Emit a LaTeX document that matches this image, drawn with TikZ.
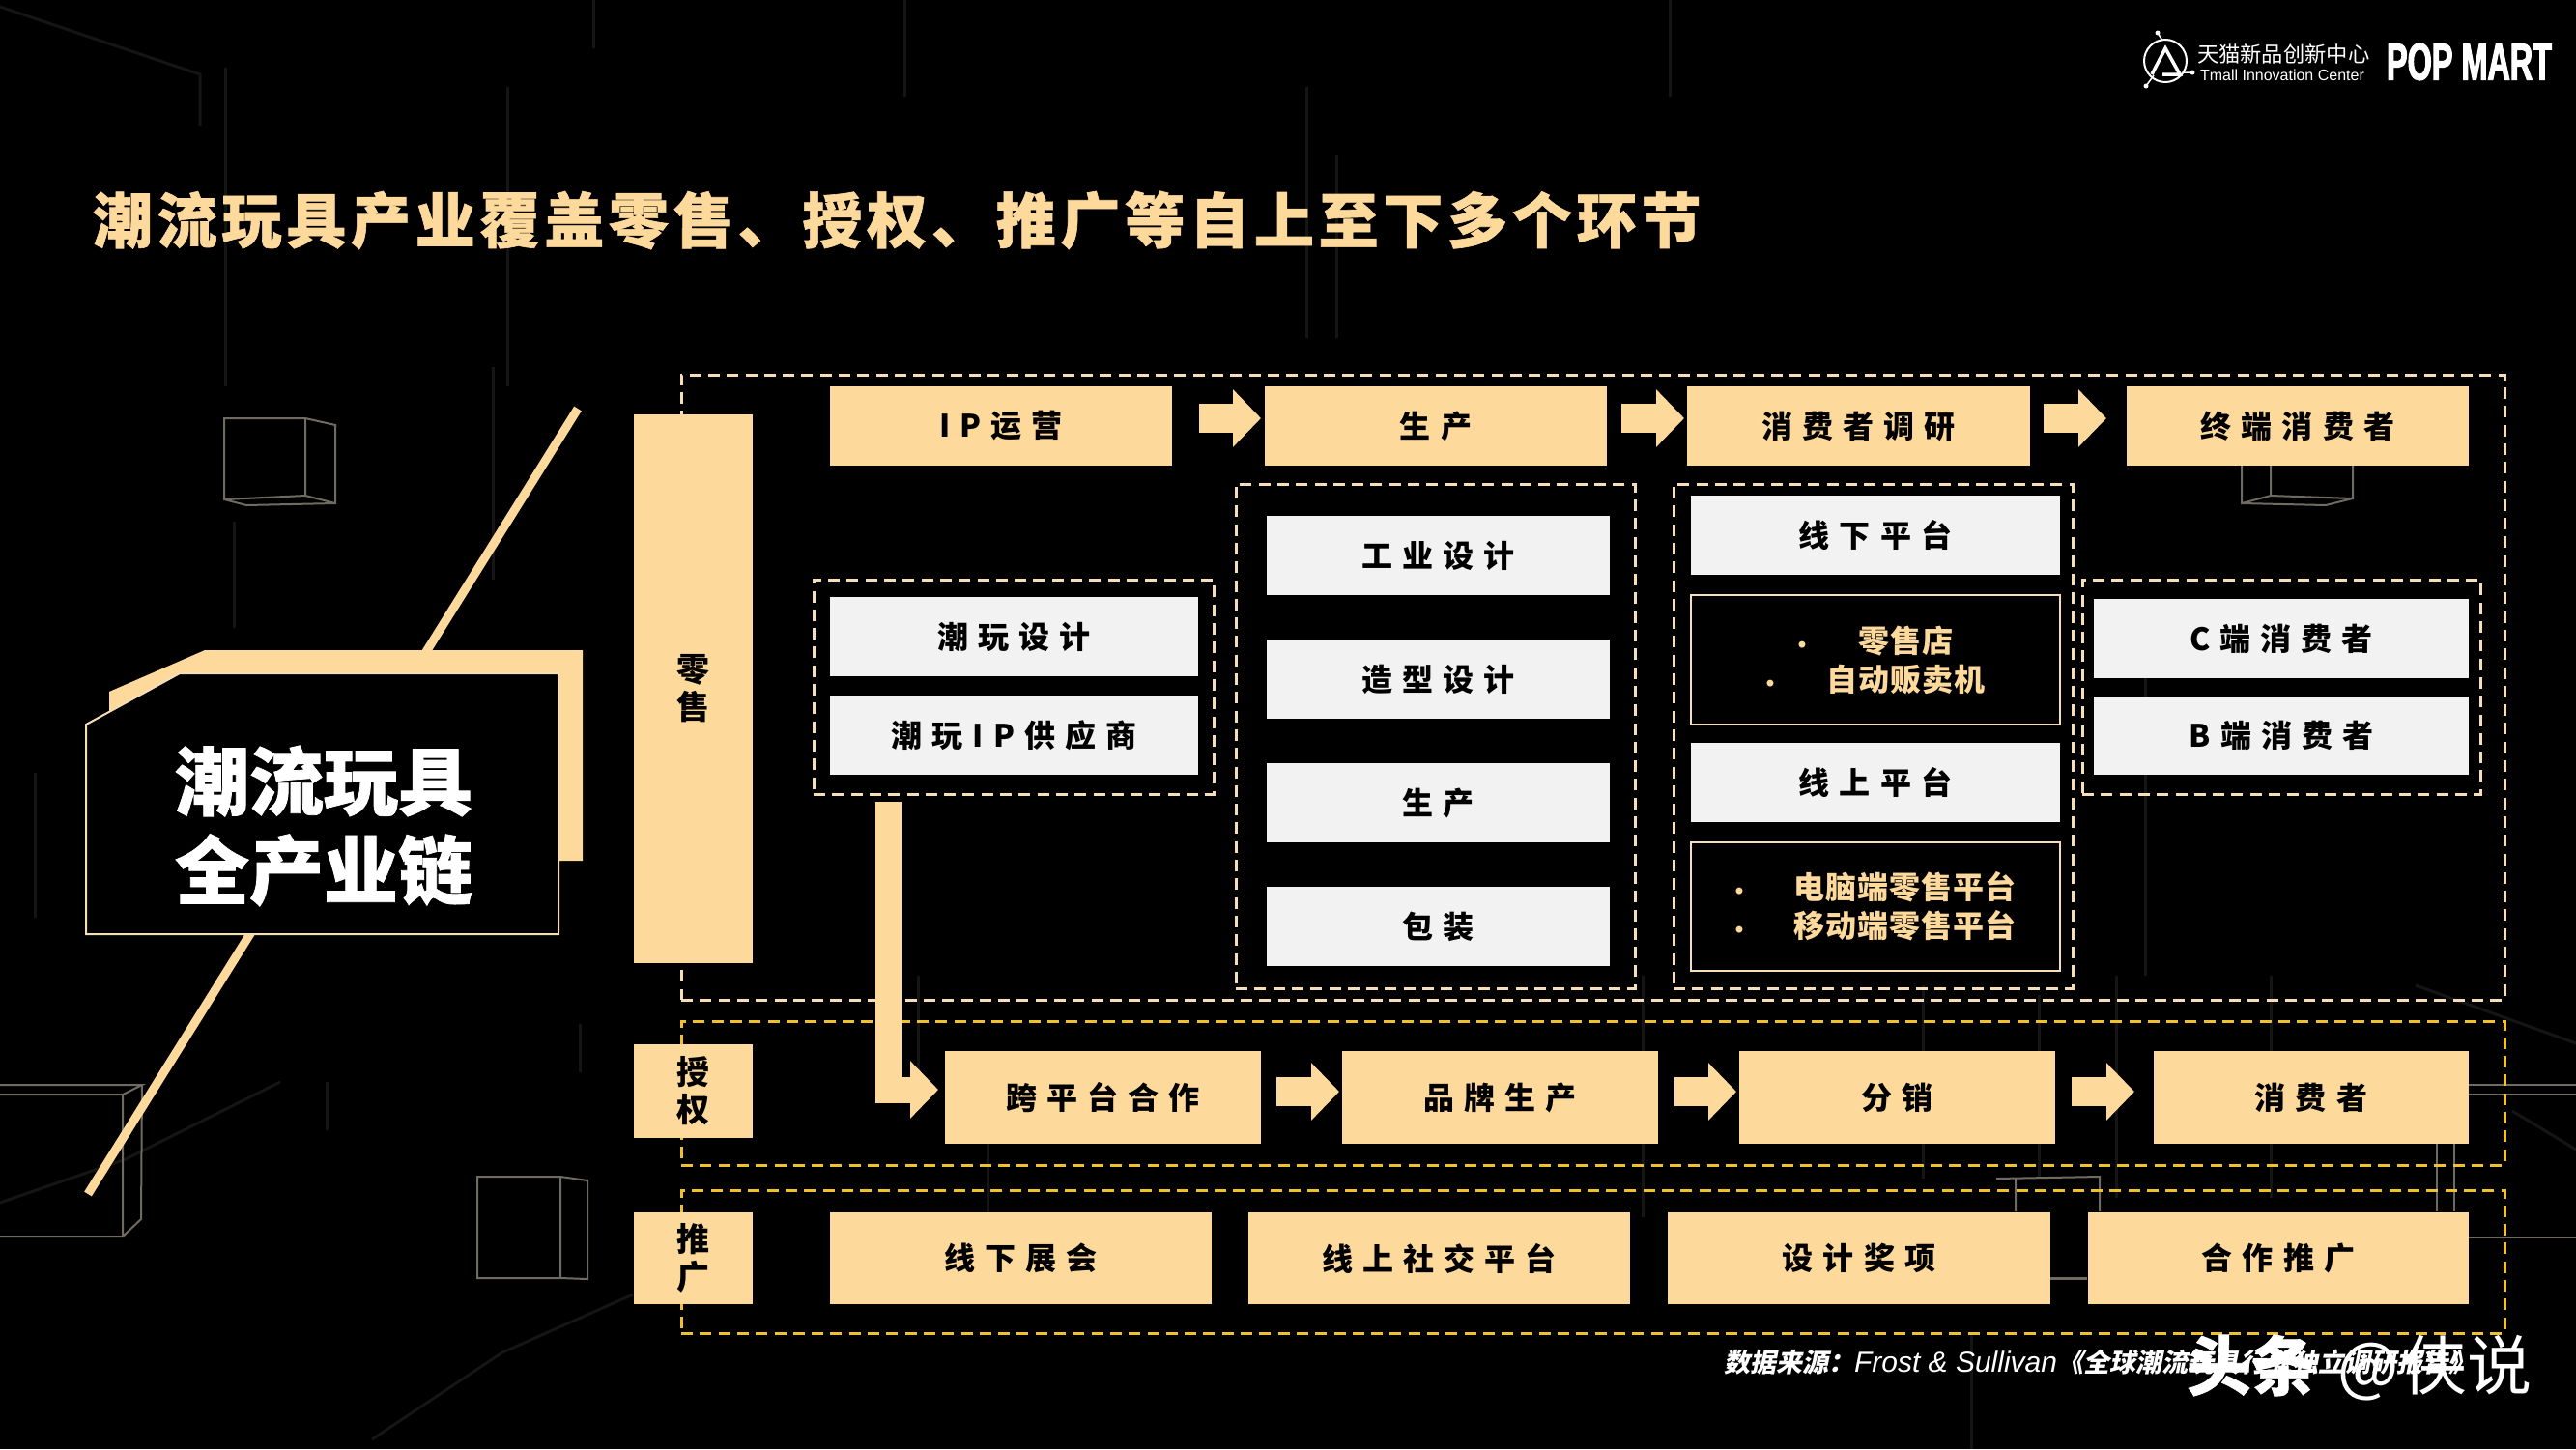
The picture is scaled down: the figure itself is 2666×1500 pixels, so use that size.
\documentclass[tikz,border=0pt]{standalone}
\usepackage{fontspec}
\usetikzlibrary{arrows.meta,calc}
\setmainfont{Noto Sans CJK SC}
\newfontfamily\trk[LetterSpace=31.5]{Noto Sans CJK SC}
\newfontfamily\trkbar[LetterSpace=36]{Noto Sans CJK SC}
\newfontfamily\trksm[LetterSpace=3]{Noto Sans CJK SC}
\newfontfamily\ttl[LetterSpace=7.7,FakeBold=1]{Noto Sans CJK SC}
\newfontfamily\hvy[FakeBold=1]{Noto Sans CJK SC}
\newfontfamily\slnt[FakeSlant=0.2]{Noto Sans CJK SC}
\newfontfamily\lat{Liberation Sans}
\newfontfamily\popf[FakeStretch=0.6,FakeBold=2]{Liberation Sans}
\definecolor{gold}{HTML}{FDD99C}
\definecolor{cream}{HTML}{F6DFB6}
\definecolor{ylw}{HTML}{EFC12F}
\definecolor{pale}{HTML}{F2F2F2}
\definecolor{cubeln}{HTML}{6F6B63}
\definecolor{faint}{HTML}{151515}
\tikzset{
 px/.style={x=1pt,y=-1pt},
 base/.style={inner sep=0pt,outer sep=0pt,align=center},
 goldbox/.style={base,fill=gold,text=black,font=\fontsize{32}{38}\selectfont\trk\bfseries},
 palebox/.style={base,fill=pale,text=black,font=\fontsize{32}{38}\selectfont\trk\bfseries},
 listbox/.style={base,fill=black,draw=cream,line width=2.5pt,text=gold,font=\fontsize{32}{40}\selectfont\trksm\bfseries},
 sidebox/.style={base,fill=gold,text=black,font=\fontsize{34}{39}\selectfont\trkbar\bfseries},
 grpc/.style={base,draw=cream,line width=3pt,dash pattern=on 12pt off 7.3pt},
 grpy/.style={base,draw=ylw,line width=3pt,dash pattern=on 12pt off 7.3pt},
 blockarrow/.style={draw=gold,line width=30pt,-{Triangle[length=29pt,width=58pt,fill=gold]}},
 cube/.style={draw=cubeln,line width=2pt},
 bgline/.style={draw=faint,line width=3pt},
}
\newcommand{\bx}[7]{\node[#2,minimum width={(#5-#3)*1pt},minimum height={(#6-#4)*1pt}] (#1) at ({(#3+#5)/2},{(#4+#6)/2}) {#7};}
\newcommand{\dotb}[1]{{\fontsize{24}{24}\lat\textbf{•}}\hspace{#1pt}}
\begin{document}
\begin{tikzpicture}[px]
\fill[black] (0,0) rectangle (2666,1500);
\useasboundingbox (0,0) rectangle (2666,1500);
% faint background
\foreach \xa/\ya/\yb in {614/0/50,936/0/100,525/90/400,233/70/400,1383/160/350,1728/0/100,1352/90/350,510/380/600,242/540/650,36/800/950,950/1010/1120,1022/1140/1280,338/1120/1170,600/1060/1110,1990/1020/1220,2190/1010/1240,2110/1030/1220,2350/1010/1240,1700/1010/1260,2040/1380/1500,2220/700/1010}
  \draw[bgline] (\xa,\ya) -- (\xa,\yb);
\draw[bgline] (0,7) -- (207,77) -- (207,130);
\draw[bgline] (0,1245) -- (130,1200) -- (290,1120);
\draw[bgline] (2500,1020) -- (2666,1080);
\draw[bgline] (2600,1150) -- (2666,1190);
\draw[bgline] (385,1490) -- (520,1400) -- (655,1340);
% cubes
\draw[cube] (232,433) -- (316,433) -- (316,513) -- (232,517) -- cycle (316,433) -- (347,440) -- (347,521) -- (316,513) (232,517) -- (255,523) -- (347,521);
\draw[cube] (0,1123) -- (147,1123) -- (127,1133) -- (0,1133) (127,1133) -- (127,1280) -- (0,1280) (147,1123) -- (146,1262) -- (127,1280);
\draw[cube] (494,1218) -- (580,1218) -- (580,1323) -- (494,1323) -- cycle (580,1218) -- (608,1222) -- (608,1324) -- (580,1323);
\draw[cube] (2320,482) -- (2320,521) -- (2350,513) -- (2435,516) -- (2435,482) (2350,482) -- (2350,513) (2320,521) -- (2407,523) -- (2435,516);
\draw[cube] (2555,1123) -- (2666,1123) (2555,1133) -- (2666,1133) (2555,1281) -- (2666,1281);
\draw[cube] (2522,1184) -- (2522,1254) (2540,1184) -- (2540,1254);
\draw[cube] (2066,1220) -- (2173,1218) -- (2173,1254) (2086,1220) -- (2086,1254);
\draw[cube,line width=3pt] (2122,1323) -- (2160,1323);
% title
\node[base,anchor=west,text=gold,font=\fontsize{62}{70}\selectfont\ttl\bfseries] (title) at (96,228) {潮流玩具产业覆盖零售、授权、推广等自上至下多个环节};
% logo
\draw[white,line width=2pt] (2241,63) circle (22);
\draw[white,line width=1.5pt] (2233,34) -- (2238,42) (2269,75) -- (2259,75) (2221,89) -- (2229,78);
\fill[white] (2233,34) circle (2.5) (2269,75) circle (2.5) (2221,89) circle (2.5);
\draw[white,line width=3.5pt] (2227,77) -- (2241,50) -- (2256,77) -- (2238,77);
\node[base,anchor=west,text=white,font=\fontsize{22.3}{24}\selectfont] (tm1) at (2274,56) {天猫新品创新中心};
\node[base,anchor=west,text=white,font=\fontsize{16}{18}\selectfont\lat] (tm2) at (2277,78) {Tmall Innovation Center};
\node[base,anchor=west,text=white,font=\fontsize{54}{56}\selectfont\popf\bfseries] (pop) at (2470,64) {POP MART};
% diagonal and header plate
\draw[draw=gold,line width=9pt] (598,423) -- (91,1236);
\fill[gold] (113,716) -- (212,673) -- (603,673) -- (603,891) -- (113,891) -- cycle;
\draw[fill=black,draw=cream,line width=2pt] (89,750) -- (186,697) -- (578,697) -- (578,967) -- (89,967) -- cycle;
\node[base,text=white,font=\fontsize{77}{92}\selectfont\hvy\bfseries] (head) at (335,855) {潮流玩具\\全产业链};
% group frames
\bx{retail}{grpc}{705}{388}{2592}{1035}{}
\bx{lic}{grpy}{705}{1057}{2592}{1206}{}
\bx{promo}{grpy}{705}{1232}{2592}{1380}{}
\bx{gdes}{grpc}{842}{600}{1256}{822}{}
\bx{gprod}{grpc}{1279}{501}{1692}{1023}{}
\bx{gchan}{grpc}{1732}{501}{2145}{1023}{}
\bx{gcons}{grpc}{2155}{600}{2567}{822}{}
% side bars
\bx{sr}{sidebox}{656}{429}{779}{997}{零\\售}
\bx{sl}{sidebox}{656}{1081}{779}{1178}{授\\权}
\bx{sp}{sidebox}{656}{1255}{779}{1350}{推\\广}
% top row
\bx{ip}{goldbox}{859}{400}{1213}{482}{IP运营}
\bx{mk}{goldbox}{1309}{400}{1663}{482}{生产}
\bx{rs}{goldbox}{1746}{400}{2101}{482}{消费者调研}
\bx{ec}{goldbox}{2201}{400}{2555}{482}{终端消费者}
% design group
\bx{d1}{palebox}{859}{618}{1240}{700}{潮玩设计}
\bx{d2}{palebox}{859}{720}{1240}{802}{潮玩IP供应商}
% production group
\bx{p1}{palebox}{1311}{534}{1666}{616}{工业设计}
\bx{p2}{palebox}{1311}{662}{1666}{744}{造型设计}
\bx{p3}{palebox}{1311}{790}{1666}{872}{生产}
\bx{p4}{palebox}{1311}{918}{1666}{1000}{包装}
% channel group
\bx{c1}{palebox}{1750}{513}{2132}{595}{线下平台}
\bx{c2}{listbox}{1750}{616}{2132}{750}{\dotb{54}零售店\\\dotb{54}自动贩卖机}
\bx{c3}{palebox}{1750}{769}{2132}{851}{线上平台}
\bx{c4}{listbox}{1750}{872}{2132}{1005}{\dotb{52}电脑端零售平台\\\dotb{52}移动端零售平台}
% consumer group
\bx{u1}{palebox}{2167}{620}{2555}{702}{C端消费者}
\bx{u2}{palebox}{2167}{721}{2555}{802}{B端消费者}
% licensing row
\bx{l1}{goldbox}{978}{1088}{1305}{1184}{跨平台合作}
\bx{l2}{goldbox}{1389}{1088}{1716}{1184}{品牌生产}
\bx{l3}{goldbox}{1800}{1088}{2127}{1184}{分销}
\bx{l4}{goldbox}{2229}{1088}{2555}{1184}{消费者}
% promotion row
\bx{m1}{goldbox}{859}{1255}{1254}{1350}{线下展会}
\bx{m2}{goldbox}{1292}{1255}{1687}{1350}{线上社交平台}
\bx{m3}{goldbox}{1726}{1255}{2122}{1350}{设计奖项}
\bx{m4}{goldbox}{2161}{1255}{2555}{1350}{合作推广}
% arrows
\draw[blockarrow] ([shift={(28,-8)}]ip.east) -- ([shift={(-4,-8)}]mk.west);
\draw[blockarrow] ([shift={(15,-8)}]mk.east) -- ([shift={(-3,-8)}]rs.west);
\draw[blockarrow] ([shift={(14,-8)}]rs.east) -- ([shift={(-21,-8)}]ec.west);
\draw[blockarrow] ([shift={(16,-6)}]l1.east) -- ([shift={(-3,-6)}]l2.west);
\draw[blockarrow] ([shift={(17,-6)}]l2.east) -- ([shift={(-3,-6)}]l3.west);
\draw[blockarrow] ([shift={(17,-6)}]l3.east) -- ([shift={(-20,-6)}]l4.west);
\draw[blockarrow,line width=27pt] ([shift={(-130,8)}]gdes.south) |- ([shift={(-7,-8)}]l1.west);
% source and watermark
\node[base,anchor=west,text=white,font=\fontsize{27}{30}\selectfont\slnt\bfseries] (src) at (1784,1410) {数据来源：{\lat\itshape\mdseries\fontsize{30}{30}\selectfont Frost \& Sullivan}《全球潮流玩具行业独立调研报告》};
\node[base,anchor=west,text=white,font=\fontsize{67}{70}\selectfont] (wm) at (2263,1416) {{\hvy\bfseries 头条}\hspace{22pt}@\hspace{4pt}侠说};
\end{tikzpicture}
\end{document}
